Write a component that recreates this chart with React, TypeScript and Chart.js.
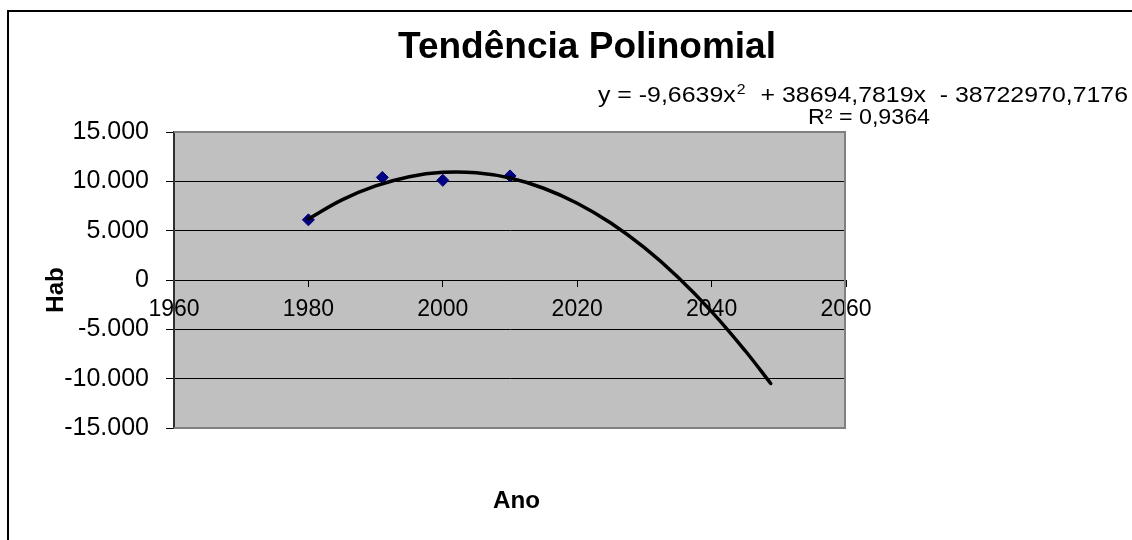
import React, { useEffect, useRef } from 'react';
import { Chart, registerables } from 'chart.js';

Chart.register(...registerables);

// Observed values (Ano, Hab)
const observedYears = [1980, 1991, 2000, 2010];
const observedHab = [6100, 10400, 10100, 10550];

// Trendline
const trendYears = [1980, 1985, 1990, 1995, 2000, 2005, 2010, 2015, 2020, 2025, 2030, 2035, 2040, 2045, 2048.8];
const trendHab = [6180, 8120, 9530, 10470, 10910, 10860, 10330, 9300, 7780, 5770, 3270, 280, -3200, -7170, -10490];

const xMin = 1960;
const xMax = 2060;
const xStep = 20;
const yMin = -15000;
const yMax = 15000;
const yStep = 5000;

const titleText = 'Tendência Polinomial';
const eqMain = 'y = -9,6639x';
const eqSup = '2';
const eqRest = '  + 38694,7819x  - 38722970,7176';
const r2Text = 'R² = 0,9364';
const yTitle = 'Hab';
const xTitle = 'Ano';

const FONT = '"Liberation Sans", Arial, sans-serif';

function fmt(v: number): string {
  const s = Math.abs(v).toString().replace(/\B(?=(\d{3})+(?!\d))/g, '.');
  return (v < 0 ? '-' : '') + s;
}

// draw text horizontally stretched to a given width
function stretchText(ctx: any, text: string, left: number, baseline: number, width: number) {
  const w = ctx.measureText(text).width;
  ctx.save();
  ctx.translate(left, baseline);
  ctx.scale(width / w, 1);
  ctx.textAlign = 'left';
  ctx.fillText(text, 0, 0);
  ctx.restore();
}

const decor = {
  id: 'decor',
  beforeDraw(chart: any) {
    const { ctx, chartArea: a } = chart;
    ctx.save();
    ctx.fillStyle = '#ffffff';
    ctx.fillRect(0, 0, chart.width, chart.height);
    ctx.fillStyle = '#C0C0C0';
    ctx.fillRect(a.left, a.top, a.right - a.left, a.bottom - a.top);
    ctx.strokeStyle = '#000000';
    ctx.lineWidth = 2;
    ctx.beginPath();
    ctx.moveTo(8, 545);
    ctx.lineTo(8, 11);
    ctx.lineTo(1140, 11);
    ctx.stroke();
    ctx.restore();
  },
  beforeDatasetsDraw(chart: any) {
    const { ctx, chartArea: a } = chart;
    ctx.save();
    ctx.strokeStyle = '#808080';
    ctx.lineWidth = 2;
    ctx.beginPath();
    ctx.moveTo(a.left, a.top);
    ctx.lineTo(a.right - 1, a.top);
    ctx.lineTo(a.right - 1, a.bottom);
    ctx.lineTo(a.left, a.bottom);
    ctx.stroke();
    ctx.restore();
  },
  afterDraw(chart: any) {
    const { ctx } = chart;
    ctx.save();
    ctx.fillStyle = '#000000';
    ctx.textBaseline = 'alphabetic';
    // Title
    ctx.font = `bold 36px ${FONT}`;
    stretchText(ctx, titleText, 398, 58, 378);
    // Equation (spans 598..1128)
    const mainFont = `22px ${FONT}`;
    const supFont = `14px ${FONT}`;
    ctx.font = mainFont;
    const w1 = ctx.measureText(eqMain).width;
    const w3 = ctx.measureText(eqRest).width;
    ctx.font = supFont;
    const w2 = ctx.measureText(eqSup).width + 2;
    const total = w1 + w2 + w3;
    const k = 530 / total;
    ctx.save();
    ctx.translate(598, 102);
    ctx.scale(k, 1);
    ctx.textAlign = 'left';
    ctx.font = mainFont;
    ctx.fillText(eqMain, 0, 0);
    ctx.font = supFont;
    ctx.fillText(eqSup, w1 + 1, -8);
    ctx.font = mainFont;
    ctx.fillText(eqRest, w1 + w2, 0);
    ctx.restore();
    // R²
    ctx.font = mainFont;
    stretchText(ctx, r2Text, 808, 124, 122);
    // Axis titles
    ctx.font = `bold 24px ${FONT}`;
    ctx.textBaseline = 'middle';
    stretchText(ctx, xTitle, 493, 501, 47);
    ctx.translate(56, 290);
    ctx.rotate(-Math.PI / 2);
    ctx.textAlign = 'center';
    ctx.fillText(yTitle, 0, 0);
    ctx.restore();
  },
};

export default function App() {
  const ref = useRef<HTMLCanvasElement | null>(null);
  useEffect(() => {
    if (!ref.current) return;
    const chart = new Chart(ref.current, {
      type: 'scatter',
      data: {
        datasets: [
          {
            label: 'Polinomial',
            data: trendYears.map((yr, i) => ({ x: yr, y: trendHab[i] })),
            showLine: true,
            borderColor: '#000000',
            borderWidth: 3.5,
            borderCapStyle: 'round',
            pointRadius: 0,
            tension: 0.4,
            fill: false,
          },
          {
            label: 'Hab',
            data: observedYears.map((yr, i) => ({ x: yr, y: observedHab[i] })),
            showLine: false,
            pointStyle: 'rectRot',
            pointRadius: 6,
            backgroundColor: '#000080',
            borderColor: '#000080',
            borderWidth: 1,
          },
        ],
      } as any,
      options: {
        responsive: false,
        maintainAspectRatio: false,
        devicePixelRatio: 1,
        animation: false,
        layout: { padding: { left: 0, top: 132, right: 286, bottom: 112 } },
        plugins: { legend: { display: false }, tooltip: { enabled: false }, title: { display: false } },
        scales: {
          x: {
            type: 'linear',
            position: { y: 0 } as any,
            min: xMin,
            max: xMax,
            ticks: {
              stepSize: xStep,
              color: '#000000',
              font: { family: FONT, size: 23 },
              padding: 10,
              maxRotation: 0,
              callback: (v: any) => String(v),
            },
            grid: { display: true, drawOnChartArea: false, drawTicks: true, tickLength: 6, color: '#000000' },
            border: { display: true, color: '#000000', width: 1 },
          },
          y: {
            type: 'linear',
            position: 'left',
            min: yMin,
            max: yMax,
            afterFit: (scale: any) => {
              scale.width = 174;
            },
            ticks: {
              stepSize: yStep,
              color: '#000000',
              font: { family: FONT, size: 25 },
              padding: 17,
              callback: (v: any) => fmt(Number(v)),
            },
            grid: { color: '#000000', lineWidth: 1, tickLength: 8 },
            border: { display: true, color: '#303030', width: 2 },
          },
        },
      } as any,
      plugins: [decor],
    });
    return () => chart.destroy();
  }, []);
  return (
    <div style={{ position: 'fixed', left: 0, top: 0, width: 1132, height: 540 }}>
      <canvas ref={ref} width={1132} height={540} style={{ width: 1132, height: 540 }} />
    </div>
  );
}
